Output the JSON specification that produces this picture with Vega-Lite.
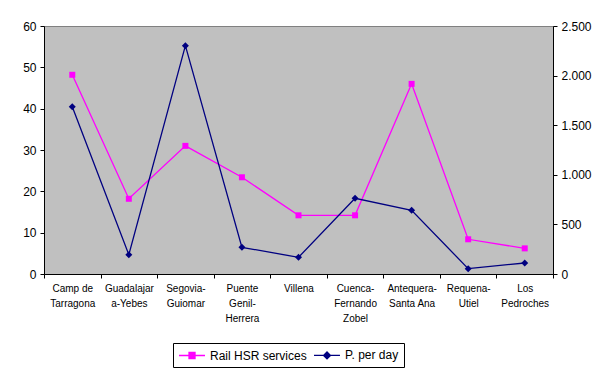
{
  "$schema": "https://vega.github.io/schema/vega-lite/v6.json",
  "width": 509,
  "height": 248,
  "autosize": {"type": "none"},
  "padding": {"left": 44, "top": 26, "right": 47, "bottom": 99},
  "background": "white",
  "data": {"values": [
    {"station": "Camp de\nTarragona", "services": 48.2, "pday": 1686},
    {"station": "Guadalajar\na-Yebes", "services": 18.2, "pday": 195},
    {"station": "Segovia-\nGuiomar", "services": 31.0, "pday": 2302},
    {"station": "Puente\nGenil-\nHerrera", "services": 23.4, "pday": 269},
    {"station": "Villena", "services": 14.2, "pday": 168},
    {"station": "Cuenca-\nFernando\nZobel", "services": 14.2, "pday": 763},
    {"station": "Antequera-\nSanta Ana", "services": 46.0, "pday": 642},
    {"station": "Requena-\nUtiel", "services": 8.4, "pday": 54},
    {"station": "Los\nPedroches", "services": 6.2, "pday": 111}
  ]},
  "encoding": {
    "x": {
      "field": "station", "type": "nominal", "sort": null,
      "scale": {"type": "band", "paddingInner": 0, "paddingOuter": 0},
      "axis": {
        "title": null, "labelAngle": 0, "tickBand": "extent", "tickSize": 4,
        "labelFontSize": 10, "labelExpr": "split(datum.label, '\\n')",
        "labelLineHeight": 15, "labelPadding": 5, "labelOverlap": false, "labelLimit": 100
      }
    }
  },
  "layer": [
    {
      "mark": {"type": "line", "strokeWidth": 1.3, "point": {"shape": "square", "size": 36, "filled": true}},
      "encoding": {
        "y": {
          "field": "services", "type": "quantitative",
          "scale": {"domain": [0, 60], "nice": false},
          "axis": {"title": null, "values": [0, 10, 20, 30, 40, 50, 60], "tickSize": 4, "labelFontSize": 12, "labelPadding": 4}
        },
        "color": {
          "datum": "Rail HSR services",
          "scale": {"domain": ["Rail HSR services", "P. per day"], "range": ["#FF00FF", "#000080"]},
          "legend": {
            "orient": "none", "legendX": 129, "legendY": 317, "direction": "horizontal",
            "title": null, "strokeColor": "black", "fillColor": "white", "padding": 5,
            "labelFontSize": 12, "labelColor": "black", "symbolSize": 144, "symbolStrokeWidth": 1.3,
            "labelOffset": 18, "columnPadding": 4,
            "encode": {"symbols": {"update": {
              "shape": {"signal": "datum.value === 'Rail HSR services' ? 'M-1,0H3.33M0.67,-0.5H1.67V0.5H0.67Z' : 'M-1,0H3.33M1.17,-0.58L1.75,0L1.17,0.58L0.59,0Z'"},
              "fill": {"scale": "color", "field": "value"},
              "stroke": {"scale": "color", "field": "value"},
              "strokeWidth": {"value": 1.3}
            }}}
          }
        }
      }
    },
    {
      "mark": {"type": "line", "strokeWidth": 1.3, "point": {"shape": "diamond", "size": 49, "filled": true}},
      "encoding": {
        "y": {
          "field": "pday", "type": "quantitative",
          "scale": {"domain": [0, 2500], "nice": false},
          "axis": {"title": null, "orient": "right", "values": [0, 500, 1000, 1500, 2000, 2500], "tickSize": 4, "labelFontSize": 12, "labelPadding": 4,
            "labelExpr": "replace(format(datum.value, ','), ',', '.')"}
        },
        "color": {"datum": "P. per day"}
      }
    }
  ],
  "resolve": {"scale": {"y": "independent"}},
  "config": {
    "font": "Liberation Sans",
    "view": {"fill": "#C0C0C0", "stroke": "#808080"},
    "axis": {"grid": false, "domainColor": "black", "tickColor": "black", "labelColor": "black", "labelFont": "Liberation Sans"}
  }
}
